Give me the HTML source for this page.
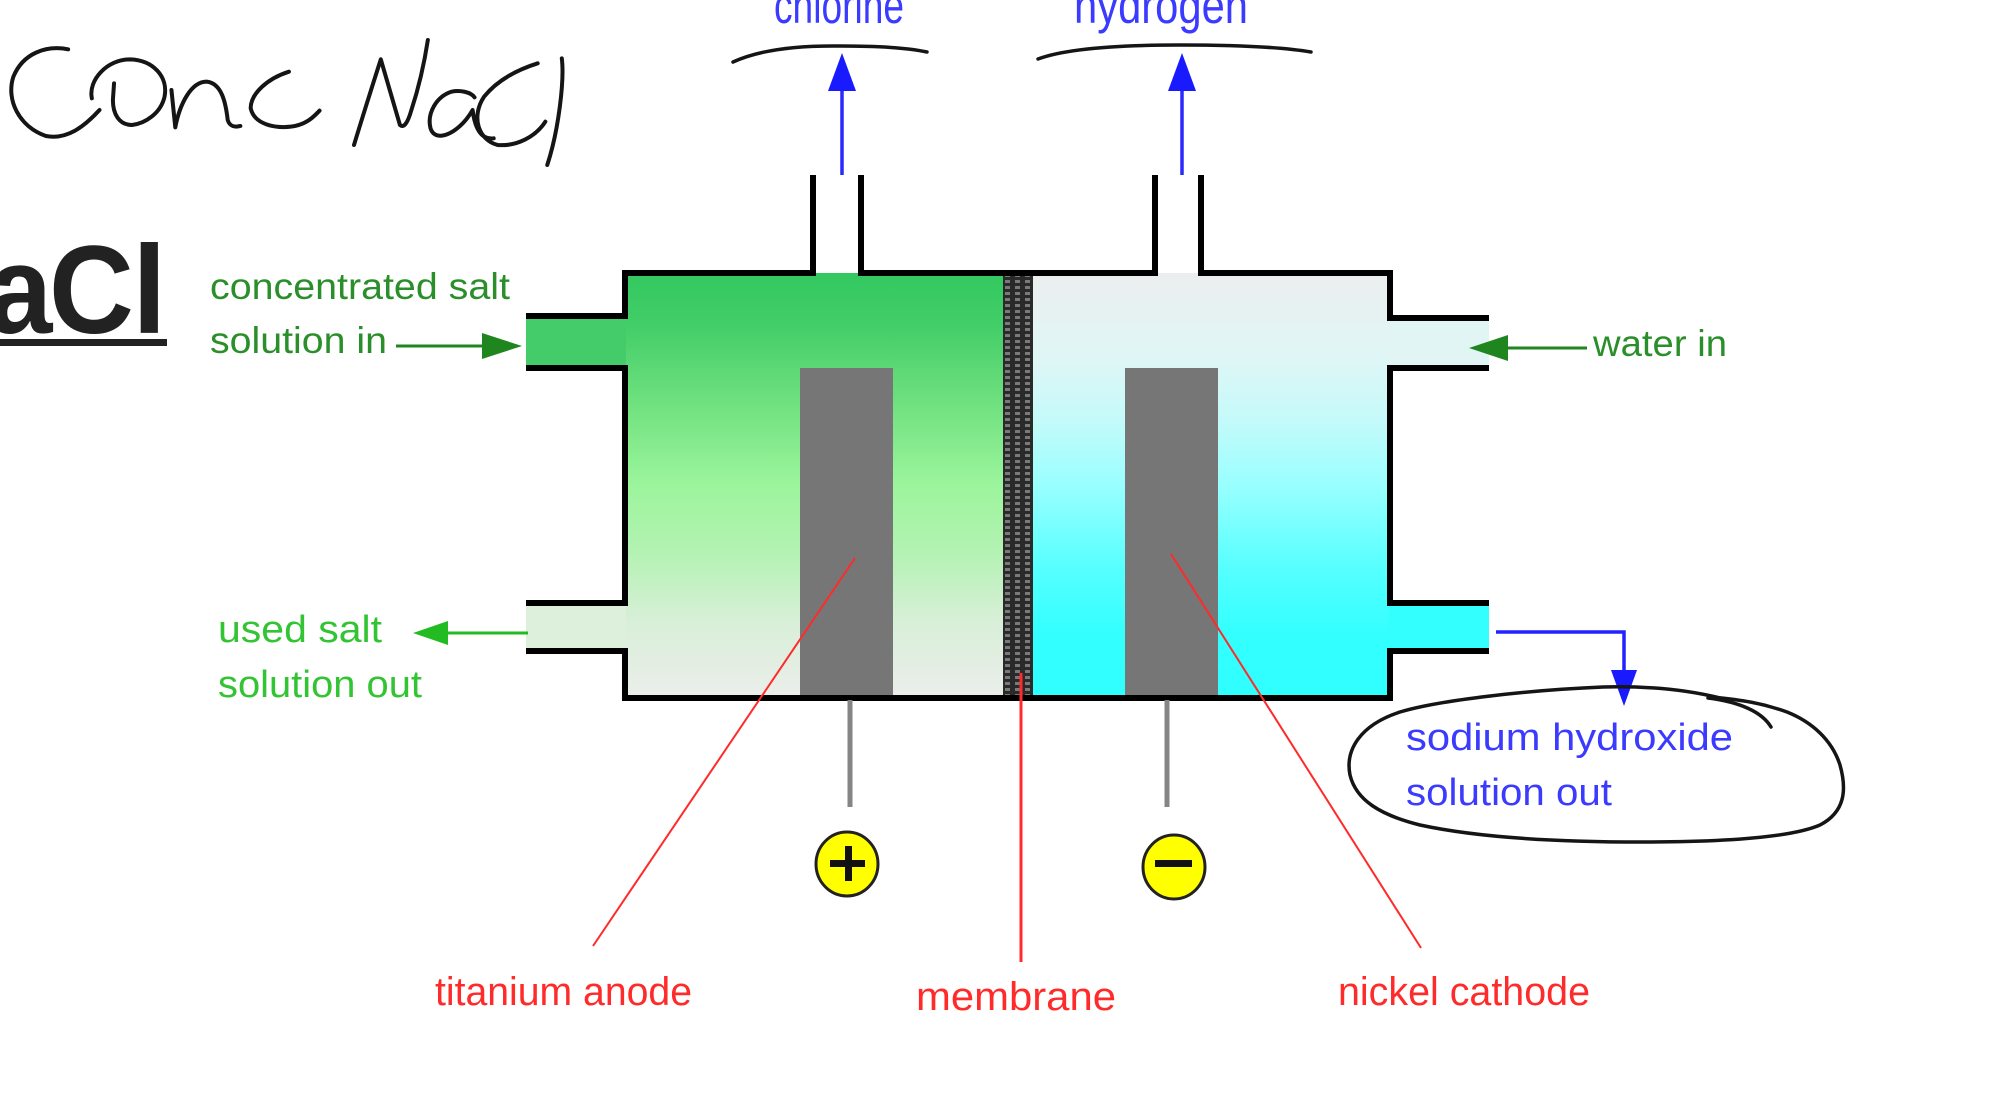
<!DOCTYPE html>
<html>
<head>
<meta charset="utf-8">
<style>
  html,body{margin:0;padding:0;background:#fff;}
  svg{display:block;}
  .t{font-family:"Liberation Sans",Arial,sans-serif;}
</style>
</head>
<body>
<svg width="2000" height="1103" viewBox="0 0 2000 1103" xmlns="http://www.w3.org/2000/svg">
  <defs>
    <linearGradient id="gL" x1="0" y1="0" x2="0" y2="1">
      <stop offset="0" stop-color="#33c860"/>
      <stop offset="0.12" stop-color="#42cd68"/>
      <stop offset="0.3" stop-color="#6ee07e"/>
      <stop offset="0.5" stop-color="#9cf59c"/>
      <stop offset="0.65" stop-color="#b2f2b2"/>
      <stop offset="0.82" stop-color="#d8efd8"/>
      <stop offset="1" stop-color="#ebeeeb"/>
    </linearGradient>
    <linearGradient id="gR" x1="0" y1="0" x2="0" y2="1">
      <stop offset="0" stop-color="#eceeee"/>
      <stop offset="0.2" stop-color="#e0f6f6"/>
      <stop offset="0.35" stop-color="#c4fafa"/>
      <stop offset="0.5" stop-color="#99ffff"/>
      <stop offset="0.7" stop-color="#55ffff"/>
      <stop offset="0.85" stop-color="#33ffff"/>
      <stop offset="1" stop-color="#30ffff"/>
    </linearGradient>
    <pattern id="mem" x="1003" y="273" width="10" height="6" patternUnits="userSpaceOnUse">
      <rect width="10" height="6" fill="#2a2a2a"/>
      <rect x="2" y="1" width="5" height="3" fill="#7a7a7a"/>
    </pattern>
  </defs>

  <!-- handwritten Conc NaCl -->
  <g transform="translate(0,30) scale(0.3827,0.3333)" fill="none" stroke="#151515" stroke-width="4" stroke-linecap="round" stroke-linejoin="round">
    <path vector-effect="non-scaling-stroke" d="M178,58 C120,45 60,70 35,140 C15,210 50,290 120,318 C175,330 220,290 260,240"/>
    <path vector-effect="non-scaling-stroke" d="M240,205 C230,150 280,88 340,88 C400,90 440,140 430,200 C420,250 380,280 345,285 C310,285 295,250 295,210 L298,160"/>
    <path vector-effect="non-scaling-stroke" d="M448,180 L458,292 C470,220 500,155 540,155 C580,160 590,220 595,270 C600,290 615,292 628,288"/>
    <path vector-effect="non-scaling-stroke" d="M755,125 C700,145 655,190 655,235 C665,285 720,295 760,290 C800,285 820,260 835,242"/>
    <path vector-effect="non-scaling-stroke" d="M925,345 C950,250 975,160 995,88 L1045,285 C1055,295 1065,280 1075,240 C1095,170 1110,90 1118,30"/>
    <path vector-effect="non-scaling-stroke" d="M1240,202 C1230,185 1200,180 1180,185 C1140,200 1115,250 1125,295 C1135,330 1170,320 1200,290 C1220,270 1230,250 1235,240 C1240,290 1255,330 1290,325"/>
    <path vector-effect="non-scaling-stroke" d="M1405,100 C1350,120 1300,150 1265,200 C1230,260 1250,330 1300,345 C1350,350 1400,320 1425,275"/>
    <path vector-effect="non-scaling-stroke" d="M1468,85 C1475,150 1460,300 1430,405"/>
  </g>

  <!-- aCl heading -->
  <g font-weight="bold" font-size="125" fill="#222">
    <text class="t" transform="translate(-13,333) scale(0.94,1)">a</text>
    <text class="t" transform="translate(49,333) scale(0.94,1)">C</text>
    <text class="t" transform="translate(132,333)">l</text>
  </g>
  <rect x="0" y="339" width="167" height="7" fill="#222"/>

  <!-- top labels -->
  <text class="t" x="774" y="23" font-size="50" fill="#3b3bff" textLength="130" lengthAdjust="spacingAndGlyphs">chlorine</text>
  <text class="t" x="1074" y="23" font-size="50" fill="#3b3bff" textLength="174" lengthAdjust="spacingAndGlyphs">hydrogen</text>

  <!-- handwritten arcs -->
  <path d="M733,62 Q770,45 840,46 Q900,46 927,52" fill="none" stroke="#151515" stroke-width="3.5" stroke-linecap="round"/>
  <path d="M1038,59 Q1075,45 1180,45 Q1270,45 1311,52" fill="none" stroke="#151515" stroke-width="3.5" stroke-linecap="round"/>

  <!-- blue gas arrows -->
  <line x1="842" y1="175" x2="842" y2="88" stroke="#2a2aff" stroke-width="3.5"/>
  <polygon points="842,53 828,91 856,91" fill="#1a1aff"/>
  <line x1="1182" y1="175" x2="1182" y2="88" stroke="#2a2aff" stroke-width="3.5"/>
  <polygon points="1182,53 1168,91 1196,91" fill="#1a1aff"/>

  <!-- fills -->
  <rect x="625" y="273" width="378" height="425" fill="url(#gL)"/>
  <rect x="526" y="316" width="100" height="52" fill="#44cc6a"/>
  <rect x="526" y="603" width="100" height="48" fill="#dcf0dc"/>
  <rect x="1033" y="273" width="357" height="425" fill="url(#gR)"/>
  <rect x="1389" y="318" width="100" height="50" fill="#e2f5f5"/>
  <rect x="1389" y="603" width="100" height="48" fill="#33ffff"/>
  <rect x="1003" y="273" width="30" height="425" fill="url(#mem)"/>

  <!-- electrodes -->
  <rect x="800" y="368" width="93" height="328" fill="#767676"/>
  <rect x="1125" y="368" width="93" height="328" fill="#767676"/>

  <!-- outline -->
  <g fill="none" stroke="#000" stroke-width="6" stroke-linejoin="miter">
    <polyline points="813,175 813,273 625,273 625,316 526,316"/>
    <polyline points="526,368 625,368 625,603 526,603"/>
    <polyline points="526,651 625,651 625,698 1390,698 1390,651 1489,651"/>
    <polyline points="1489,603 1390,603 1390,368 1489,368"/>
    <polyline points="1489,318 1390,318 1390,273 1201,273 1201,175"/>
    <polyline points="1155,175 1155,273 861,273 861,175"/>
  </g>

  <!-- wires -->
  <line x1="850" y1="700" x2="850" y2="807" stroke="#858585" stroke-width="5"/>
  <line x1="1167" y1="700" x2="1167" y2="807" stroke="#858585" stroke-width="5"/>

  <!-- terminals -->
  <ellipse cx="847" cy="864" rx="31" ry="32" fill="#ffff00" stroke="#222" stroke-width="3"/>
  <rect x="830" y="860" width="35" height="7" fill="#111"/>
  <rect x="845" y="846" width="7" height="35" fill="#111"/>
  <ellipse cx="1174" cy="867" rx="31" ry="32" fill="#ffff00" stroke="#222" stroke-width="3"/>
  <rect x="1155" y="860" width="37" height="7" fill="#111"/>

  <!-- red pointer lines -->
  <line x1="855" y1="558" x2="593" y2="946" stroke="#ff2a2a" stroke-width="2"/>
  <line x1="1021" y1="673" x2="1021" y2="962" stroke="#ff2a2a" stroke-width="3"/>
  <line x1="1171" y1="554" x2="1421" y2="948" stroke="#ff2a2a" stroke-width="2"/>

  <!-- green arrows -->
  <line x1="396" y1="346" x2="486" y2="346" stroke="#1f851f" stroke-width="3"/>
  <polygon points="522,346 482,333 482,359" fill="#1f851f"/>
  <line x1="1505" y1="348" x2="1587" y2="348" stroke="#1f851f" stroke-width="3"/>
  <polygon points="1469,348 1508,335 1508,361" fill="#1f851f"/>
  <line x1="445" y1="633" x2="528" y2="633" stroke="#22bb22" stroke-width="3"/>
  <polygon points="413,633 448,621 448,645" fill="#22bb22"/>

  <!-- NaOH arrow -->
  <polyline points="1496,632 1624,632 1624,674" fill="none" stroke="#2222ff" stroke-width="3.5"/>
  <polygon points="1624,706 1611,670 1637,670" fill="#1a1aff"/>

  <!-- ellipse around NaOH label -->
  <path d="M1720,698 C1680,688 1640,686 1603,687 C1530,690 1440,700 1400,712 C1360,725 1345,750 1350,775 C1356,800 1380,815 1420,825 C1480,838 1560,842 1641,842 C1720,842 1790,838 1820,825 C1845,812 1847,790 1840,765 C1832,740 1812,722 1787,712 C1762,703 1742,700 1712,697" fill="none" stroke="#151515" stroke-width="3.5" stroke-linecap="round"/>
  <path d="M1708,698 C1740,702 1762,712 1771,727" fill="none" stroke="#151515" stroke-width="3.5" stroke-linecap="round"/>

  <!-- green labels -->
  <text class="t" x="210" y="299" font-size="37" fill="#2a8f2a" textLength="300" lengthAdjust="spacingAndGlyphs">concentrated salt</text>
  <text class="t" x="210" y="353" font-size="37" fill="#2a8f2a" textLength="177" lengthAdjust="spacingAndGlyphs">solution in</text>
  <text class="t" x="1593" y="356" font-size="37" fill="#2a8f2a" textLength="134" lengthAdjust="spacingAndGlyphs">water in</text>
  <text class="t" x="218" y="642" font-size="38" fill="#33c433" textLength="164" lengthAdjust="spacingAndGlyphs">used salt</text>
  <text class="t" x="218" y="697" font-size="38" fill="#33c433" textLength="204" lengthAdjust="spacingAndGlyphs">solution out</text>

  <!-- blue labels -->
  <text class="t" x="1406" y="750" font-size="38" fill="#3b3bff" textLength="327" lengthAdjust="spacingAndGlyphs">sodium hydroxide</text>
  <text class="t" x="1406" y="805" font-size="38" fill="#3b3bff" textLength="206" lengthAdjust="spacingAndGlyphs">solution out</text>

  <!-- red labels -->
  <text class="t" x="435" y="1005" font-size="40" fill="#ff2a2a" textLength="257" lengthAdjust="spacingAndGlyphs">titanium anode</text>
  <text class="t" x="916" y="1010" font-size="40" fill="#ff2a2a" textLength="200" lengthAdjust="spacingAndGlyphs">membrane</text>
  <text class="t" x="1338" y="1005" font-size="40" fill="#ff2a2a" textLength="252" lengthAdjust="spacingAndGlyphs">nickel cathode</text>
</svg>
</body>
</html>
